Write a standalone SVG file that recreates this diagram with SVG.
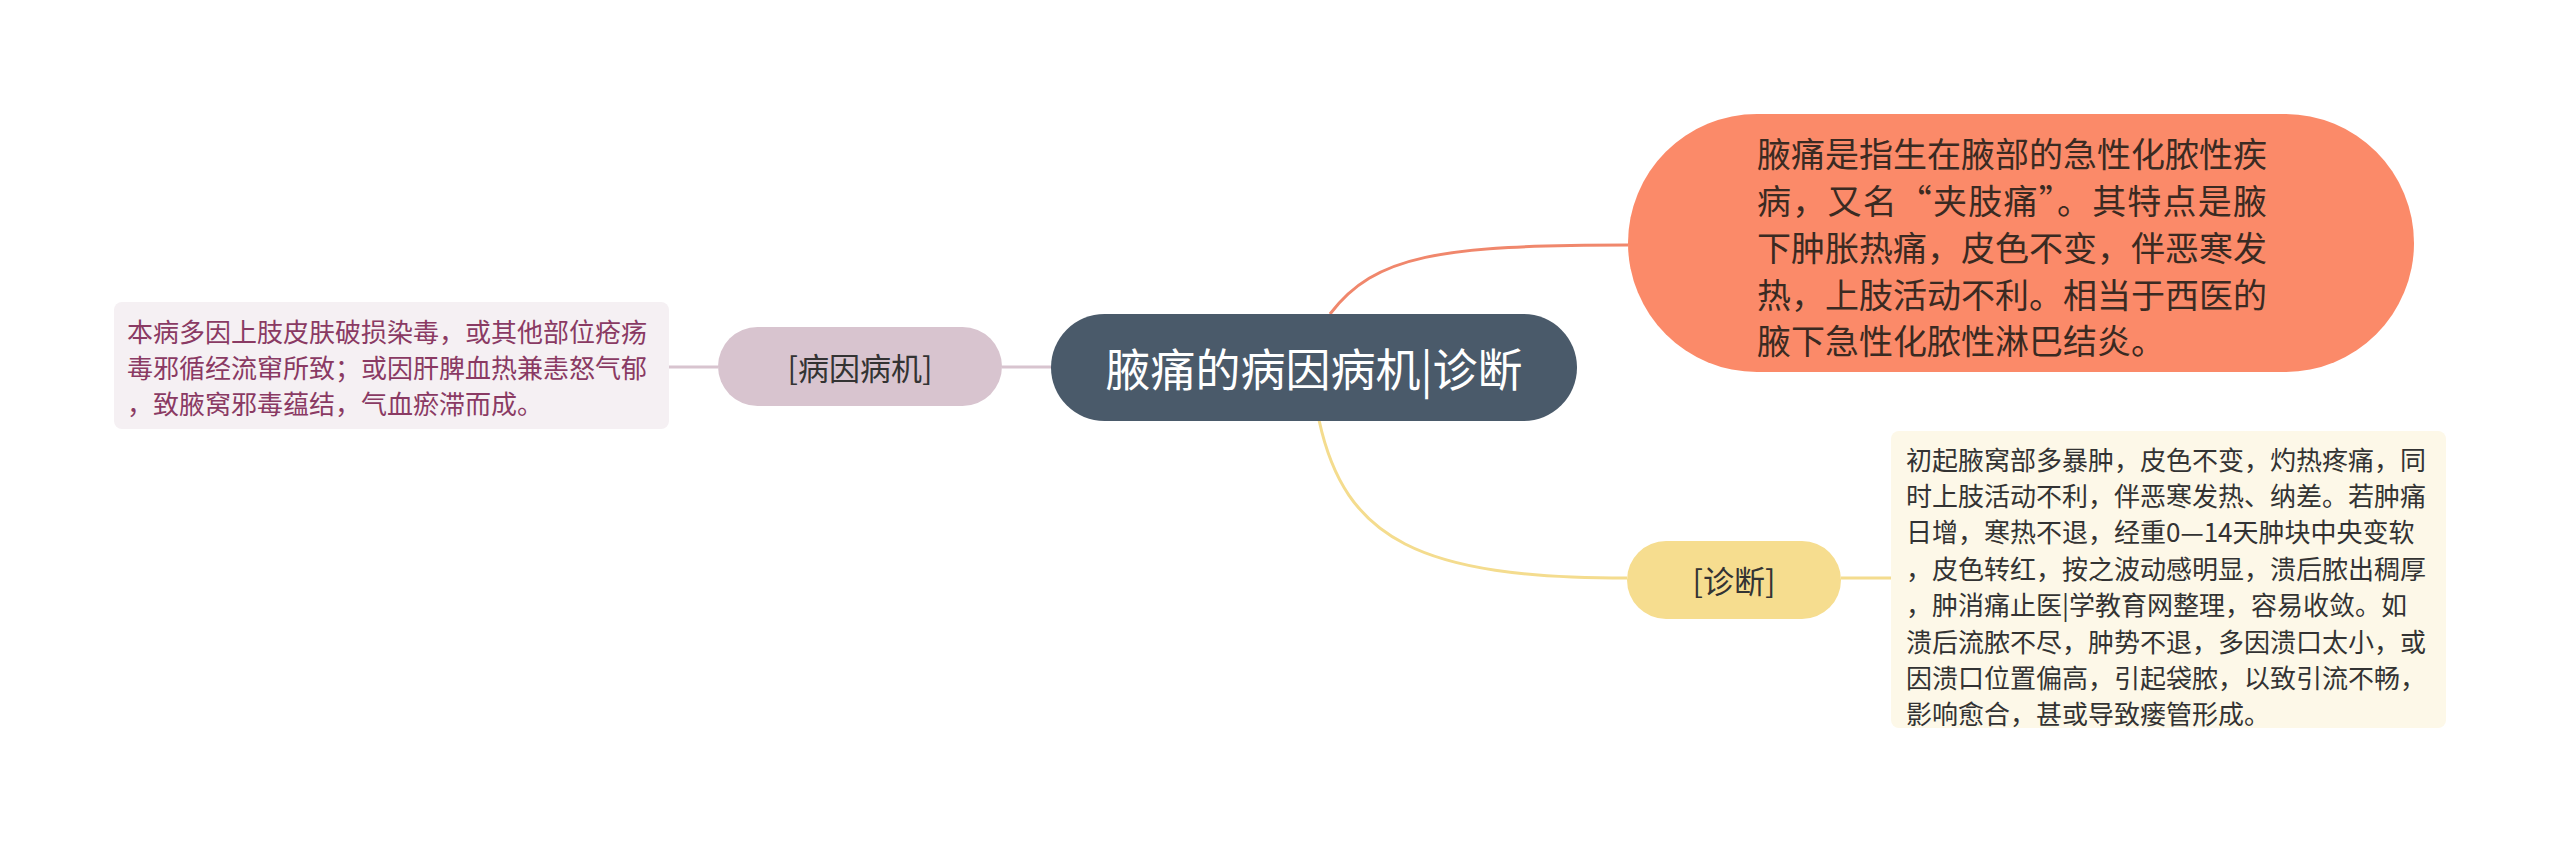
<svg xmlns="http://www.w3.org/2000/svg" width="2560" height="843" viewBox="0 0 2560 843">
<style>
text{font-family:"Noto Sans CJK SC","Noto Sans",sans-serif;dominant-baseline:central}
.conn{fill:none;stroke-width:3}
.small{font-size:26px}
</style>
<rect width="2560" height="843" fill="#ffffff"/>
<g id="connectors">
<path class="conn" stroke="#f0876c" d="M1330,314 C1375,255 1440,245 1628,245"/>
<path class="conn" stroke="#f4dc8e" d="M1319,420 C1345,540 1420,578 1627,578"/>
<path class="conn" stroke="#d8c4cf" d="M1051,367 L1002,367"/>
<path class="conn" stroke="#d8c4cf" d="M718,367 L669,367"/>
<path class="conn" stroke="#f4dc8e" d="M1841,578 L1891,578"/>
</g>
<g id="center">
<rect x="1051" y="314" width="526" height="107" rx="53.5" fill="#4a5a6a"/>
<text x="1314" y="367" font-size="45" fill="#ffffff" text-anchor="middle">腋痛的病因病机|诊断</text>
</g>
<g id="definition">
<rect x="1628" y="114" width="786" height="258" rx="129" fill="#fb8a69"/>
<text font-size="34" fill="#3a2a22">
<tspan x="1757" y="152">腋痛是指生在腋部的急性化脓性疾</tspan>
<tspan x="1757" y="199" textLength="510" lengthAdjust="spacing">病，又名“夹肢痛”。其特点是腋</tspan>
<tspan x="1757" y="246">下肿胀热痛，皮色不变，伴恶寒发</tspan>
<tspan x="1757" y="293">热，上肢活动不利。相当于西医的</tspan>
<tspan x="1757" y="339">腋下急性化脓性淋巴结炎。</tspan>
</text>
</g>
<g id="cause">
<rect x="718" y="327" width="284" height="79" rx="39.5" fill="#d8c4cf"/>
<text x="860" y="366" font-size="31" fill="#333333" text-anchor="middle">[病因病机]</text>
</g>
<g id="cause-detail">
<rect x="114" y="302" width="555" height="127" rx="8" fill="#f5f0f3"/>
<text class="small" fill="#8a3a63">
<tspan x="127" y="330">本病多因上肢皮肤破损染毒，或其他部位疮疡</tspan>
<tspan x="127" y="366">毒邪循经流窜所致；或因肝脾血热兼恚怒气郁</tspan>
<tspan x="127" y="402">，致腋窝邪毒蕴结，气血瘀滞而成。</tspan>
</text>
</g>
<g id="diagnosis">
<rect x="1627" y="541" width="214" height="78" rx="39" fill="#f6dd8f"/>
<text x="1734" y="579" font-size="31" fill="#333333" text-anchor="middle">[诊断]</text>
</g>
<g id="diagnosis-detail">
<rect x="1891" y="431" width="555" height="297" rx="8" fill="#fdf8e8"/>
<text class="small" fill="#333333">
<tspan x="1906" y="458">初起腋窝部多暴肿，皮色不变，灼热疼痛，同</tspan>
<tspan x="1906" y="494">时上肢活动不利，伴恶寒发热、纳差。若肿痛</tspan>
<tspan x="1906" y="530">日增，寒热不退，经重0—14天肿块中央变软</tspan>
<tspan x="1906" y="567">，皮色转红，按之波动感明显，溃后脓出稠厚</tspan>
<tspan x="1906" y="603">，肿消痛止医|学教育网整理，容易收敛。如</tspan>
<tspan x="1906" y="640">溃后流脓不尽，肿势不退，多因溃口太小，或</tspan>
<tspan x="1906" y="676">因溃口位置偏高，引起袋脓，以致引流不畅，</tspan>
<tspan x="1906" y="712">影响愈合，甚或导致瘘管形成。</tspan>
</text>
</g>
</svg>
